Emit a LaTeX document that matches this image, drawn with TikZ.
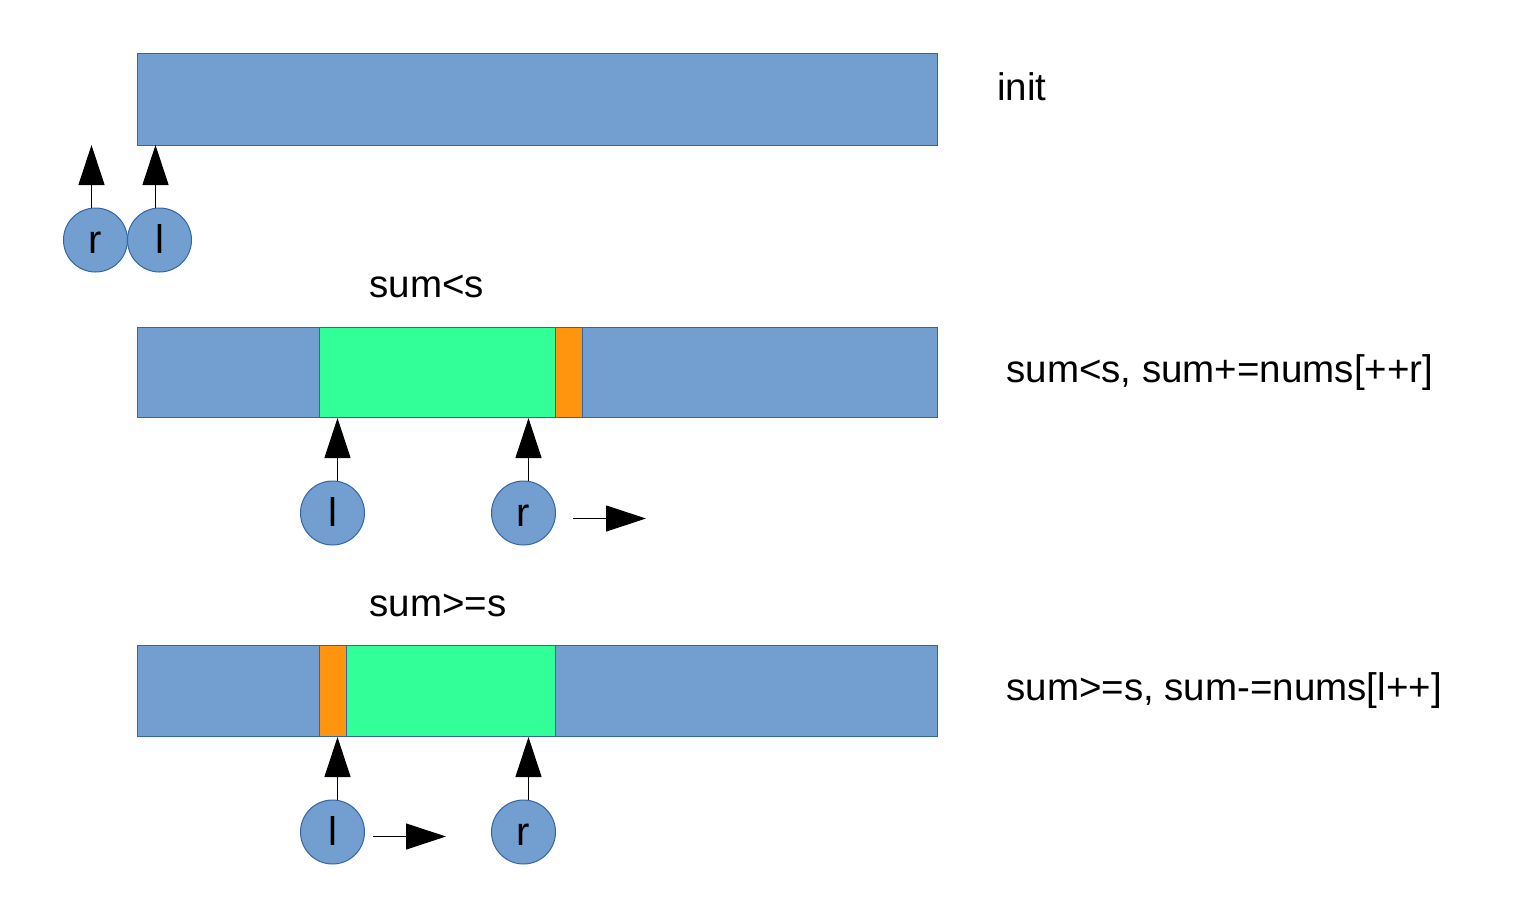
\documentclass[tikz,border=0pt]{standalone}
\usepackage{fontspec}
\setmainfont{Liberation Sans}
\usetikzlibrary{arrows.meta}
\definecolor{cblue}{HTML}{729FCF}
\definecolor{cedge}{HTML}{3465A4}
\definecolor{cgreen}{HTML}{33FF99}
\definecolor{corange}{HTML}{FF950E}
\begin{document}
\begin{tikzpicture}[x=0.5pt,y=-0.5pt,
  cell/.style={draw=cedge, line width=0.5pt},
  ptrnode/.style={circle, draw=cedge, line width=0.5pt, fill=cblue, minimum size=32pt, inner sep=0pt,
    font=\fontsize{20}{24}\selectfont, text height=13pt, text depth=0pt},
  ptr/.style={line width=0.6pt, -{Triangle[length=20pt,width=13pt]}},
  lbl/.style={anchor=base west, inner sep=0pt, font=\fontsize{19.25}{23}\selectfont}]
\useasboundingbox (0,0) rectangle (1528,911);
% row 1
\filldraw[cell, fill=cblue] (137,53) rectangle (937,145);
\node[lbl] (tinit) at (997,100) {init};
\node[ptrnode] (r1) at (95.5,240) {r};
\node[ptrnode] (l1) at (159.5,240) {l};
\coordinate (t1r) at (91.5,145);
\coordinate (t1l) at (155.5,145);
\draw[ptr] (r1.north -| t1r) -- (t1r);
\draw[ptr] (l1.north -| t1l) -- (t1l);
% row 2
\node[lbl] (h2) at (369,297) {sum<s};
\filldraw[cell, fill=cblue] (137,327) rectangle (937,417);
\filldraw[cell, fill=cgreen] (319,327) rectangle (555,417);
\filldraw[cell, fill=corange] (555,327) rectangle (582,417);
\node[lbl] (d2) at (1006,382) {sum<s, sum+=nums[++r]};
\node[ptrnode] (l2) at (332.5,513) {l};
\node[ptrnode] (r2) at (523.5,513) {r};
\coordinate (t2l) at (337.5,418);
\coordinate (t2r) at (528.5,418);
\draw[ptr] (l2.north -| t2l) -- (t2l);
\draw[ptr] (r2.north -| t2r) -- (t2r);
\coordinate (m2a) at (573,518.5);
\coordinate (m2b) at (646,518.5);
\draw[ptr] (m2a) -- (m2b);
% row 3
\node[lbl] (h3) at (369,616) {sum>=s};
\filldraw[cell, fill=cblue] (137,645) rectangle (937,736);
\filldraw[cell, fill=corange] (319,645) rectangle (346,736);
\filldraw[cell, fill=cgreen] (346,645) rectangle (555,736);
\node[lbl] (d3) at (1006,700) {sum>=s, sum-=nums[l++]};
\node[ptrnode] (l3) at (332.5,832) {l};
\node[ptrnode] (r3) at (523.5,832) {r};
\coordinate (t3l) at (337.5,737);
\coordinate (t3r) at (528.5,737);
\draw[ptr] (l3.north -| t3l) -- (t3l);
\draw[ptr] (r3.north -| t3r) -- (t3r);
\coordinate (m3a) at (373,836.5);
\coordinate (m3b) at (446,836.5);
\draw[ptr] (m3a) -- (m3b);
\end{tikzpicture}
\end{document}
